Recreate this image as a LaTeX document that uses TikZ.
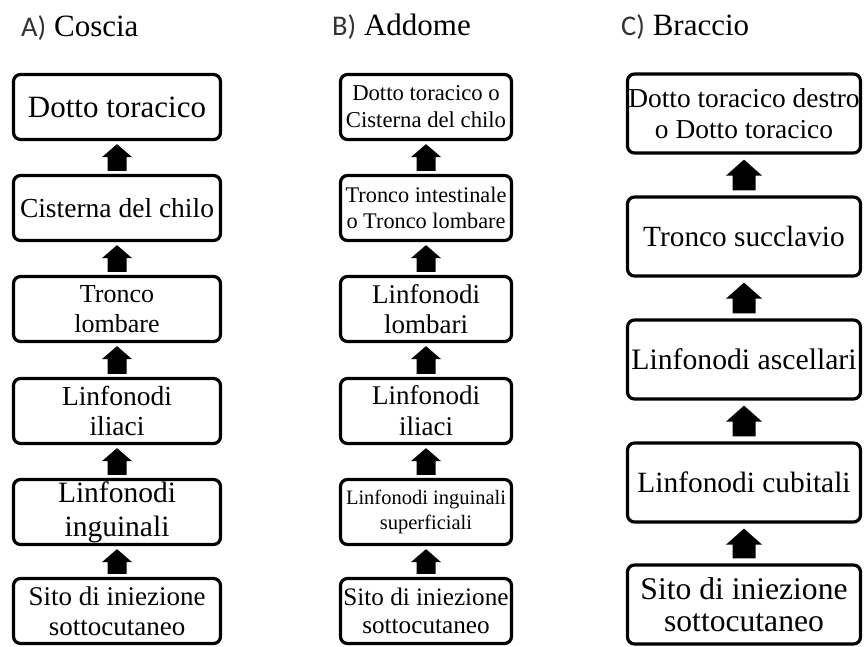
\documentclass[tikz,border=0pt]{standalone}
\usepackage{fontspec}
\setmainfont{Liberation Serif}
\newfontfamily\lblfont{Carlito}
\usetikzlibrary{calc}
\newcommand\fs[2]{\fontsize{#1}{#2}\selectfont}
% arrow from lower node #1 up to upper node #2: half head, half shaft, head length, gap
\newcommand\uparr[6]{\fill[black] let \p1=(#1.north), \p2=(#2.south) in
  (\x1-#4pt,\y1+#6pt) -- (\x1+#4pt,\y1+#6pt) -- (\x1+#4pt,\y2-#6pt-#5pt) --
  (\x1+#3pt,\y2-#6pt-#5pt) -- (\x1,\y2-#6pt) -- (\x1-#3pt,\y2-#6pt-#5pt) --
  (\x1-#4pt,\y2-#6pt-#5pt) -- cycle;}
\tikzset{
  box/.style={draw, line width=3.2pt, rounded corners=7pt, inner sep=0pt, align=center, fill=white},
  boxA/.style={box, minimum width=207pt, minimum height=65pt},
  boxB/.style={box, minimum width=171pt, minimum height=65pt},
  boxC/.style={box, minimum width=233pt, minimum height=79pt},
  title/.style={anchor=base west, inner sep=0pt, font=\fs{31}{37}}
}
\newcommand\tlab[1]{{\lblfont\color{black!80}\fs{28.5}{32}#1}}
\begin{document}
\begin{tikzpicture}[x=1pt,y=-1pt]
\useasboundingbox[fill=white] (0,0) rectangle (864,646);
% titles
\node[title] (ta) at (21,36) {\tlab{A)} Coscia};
\node[title] (tb) at (332,35) {\tlab{B)} Addome};
\node[title] (tc) at (621,35) {\tlab{C)} Braccio};
% column A
\node[boxA, font=\fs{31}{37}] (a1) at (117,107) {Dotto toracico};
\node[boxA, font=\fs{27.5}{32}] (a2) at (117,208) {Cisterna del chilo};
\node[boxA, font=\fs{26}{30}] (a3) at (117,309) {Tronco\\lombare};
\node[boxA, font=\fs{27.5}{30}] (a4) at (117,411) {Linfonodi\\iliaci};
\node[boxA, font=\fs{29.5}{34}] (a5) at (117,512) {Linfonodi\\inguinali};
\node[boxA, font=\fs{27}{30}] (a6) at (117,611) {Sito di iniezione\\sottocutaneo};
% column B
\node[boxB, font=\fs{22.7}{27}] (b1) at (426,107) {Dotto toracico o\\Cisterna del chilo};
\node[boxB, font=\fs{22.3}{26}] (b2) at (426,208) {Tronco intestinale\\o Tronco lombare};
\node[boxB, font=\fs{27}{30}] (b3) at (426,309) {Linfonodi\\lombari};
\node[boxB, font=\fs{27}{31}] (b4) at (426,411) {Linfonodi\\iliaci};
\node[boxB, font=\fs{20.5}{25}] (b5) at (426,512) {Linfonodi inguinali\\superficiali};
\node[boxB, font=\fs{25.2}{28}] (b6) at (426,611) {Sito di iniezione\\sottocutaneo};
% column C
\node[boxC, font=\fs{27.4}{31}] (c1) at (744,113.5) {Dotto toracico destro\\o Dotto toracico};
\node[boxC, font=\fs{29.3}{34}] (c2) at (744,236.5) {Tronco succlavio};
\node[boxC, font=\fs{29.7}{34}] (c3) at (744,359.5) {Linfonodi ascellari};
\node[boxC, font=\fs{29.4}{34}] (c4) at (744,482.5) {Linfonodi cubitali};
\node[boxC, font=\fs{31.6}{32}] (c5) at (744,604.5) {Sito di iniezione\\sottocutaneo};
% arrows
\uparr{a2}{a1}{15}{9.5}{13}{3}
\uparr{a3}{a2}{15}{9.5}{13}{3}
\uparr{a4}{a3}{15}{9.5}{13}{3}
\uparr{a5}{a4}{15}{9.5}{13}{3}
\uparr{a6}{a5}{15}{9.5}{13}{3}
\uparr{b2}{b1}{15}{9.5}{13}{3}
\uparr{b3}{b2}{15}{9.5}{13}{3}
\uparr{b4}{b3}{15}{9.5}{13}{3}
\uparr{b5}{b4}{15}{9.5}{13}{3}
\uparr{b6}{b5}{15}{9.5}{13}{3}
\uparr{c2}{c1}{18}{11.5}{16}{5}
\uparr{c3}{c2}{18}{11.5}{16}{5}
\uparr{c4}{c3}{18}{11.5}{16}{5}
\uparr{c5}{c4}{18}{11.5}{16}{5}
\end{tikzpicture}
\end{document}
